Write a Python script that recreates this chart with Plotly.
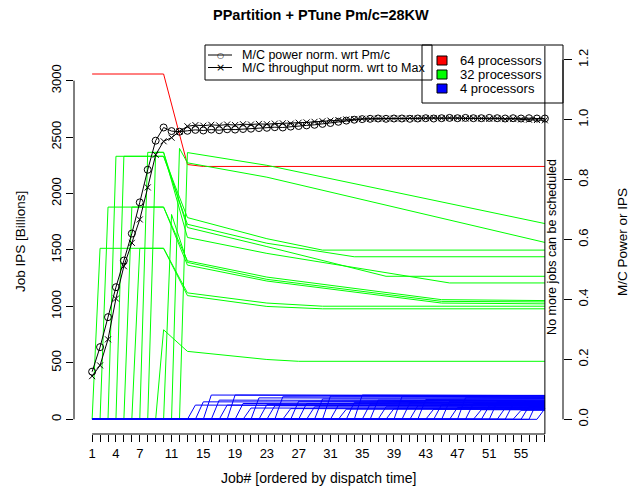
import plotly.graph_objects as go

# ---------------- data ----------------
jobs = list(range(1, 59))
x_tick_labels = {1: "1", 4: "4", 7: "7", 11: "11", 15: "15", 19: "19", 23: "23", 27: "27",
                 31: "31", 35: "35", 39: "39", 43: "43", 47: "47", 51: "51", 55: "55"}

# 64-processor job (red)
red_x = [1, 10, 13, 15, 58]
red_y = [3059, 3059, 2257, 2240, 2240]

# 32-processor jobs (green)
green_job   = [2,    3,    4,    5,    6,    7,    8,    9,    10,  11,   12,   13]
green_peak  = [1515, 1880, 2330, 2330, 1880, 1515, 2365, 2365, 793, 1815, 2400, 2363]
green_v13   = [1120, 1404, 1787, 1728, 1366, 1096, 1699, 1611, 602, 1390, 2272, 2363]
green_v23   = [1030, 1260, 1600, 1560, 1225, 1000, 1530, 1470, 530, 1240, 2145, 2250]
green_knee_x = [30,  45,   30,   34,   45,   30,   38,   46,   27,  45,   58,   58]
green_knee_y = [1002, 1060, 1499, 1440, 1030, 979, 1267, 1208, 514, 1045, 1567, 1734]
green_v58   = [1002, 1052, 1499, 1440, 1023, 979, 1267, 1208, 514, 1040, 1567, 1734]

# 4-processor jobs (blue), dispatched at jobs 14..58
blue_job = list(range(14, 59))
blue_v = [126, 155, 215, 170, 126, 215, 140, 100, 190, 130, 120, 200, 95, 160, 140,
          110, 180, 205, 125, 90, 150, 215, 135, 170, 110, 95, 200, 145, 120, 175,
          90, 130, 160, 105, 190, 140, 85, 120, 155, 100, 135, 80, 115, 150, 95]
blue_end = [120, 150, 212, 165, 118, 205, 135, 98, 185, 128, 115, 195, 92, 155, 138,
            105, 178, 200, 120, 88, 148, 210, 130, 165, 108, 93, 196, 142, 118, 172,
            88, 128, 158, 103, 188, 138, 84, 119, 154, 99, 134, 80, 115, 150, 95]

# machine power / throughput, normalised (right axis)
power = [0.159, 0.241, 0.341, 0.441, 0.530, 0.620, 0.724, 0.833, 0.930, 0.974,
         0.962, 0.960, 0.963, 0.966, 0.964, 0.967, 0.965, 0.968, 0.967, 0.969,
         0.970, 0.972, 0.973, 0.975, 0.974, 0.977, 0.979, 0.981, 0.983, 0.986,
         0.989, 0.993, 0.997, 1.000, 1.002, 1.003, 1.004, 1.003, 1.004, 1.004,
         1.003, 1.004, 1.005, 1.004, 1.005, 1.006, 1.005, 1.006, 1.005, 1.005,
         1.006, 1.005, 1.004, 1.005, 1.004, 1.005, 1.004, 1.004]
throughput = [0.144, 0.180, 0.267, 0.403, 0.511, 0.589, 0.667, 0.774, 0.883, 0.928,
              0.940, 0.961, 0.978, 0.982, 0.980, 0.983, 0.981, 0.984, 0.982, 0.985,
              0.984, 0.986, 0.985, 0.987, 0.988, 0.987, 0.990, 0.991, 0.993, 0.995,
              0.997, 0.999, 1.001, 1.002, 1.003, 1.003, 1.004, 1.003, 1.004, 1.004,
              1.005, 1.004, 1.005, 1.006, 1.005, 1.006, 1.005, 1.004, 1.005, 1.004,
              1.003, 1.004, 1.002, 1.003, 1.001, 1.000, 0.999, 0.998]

# ---------------- layout geometry (pixels) ----------------
W, H = 643, 493
L, R, T, B = 74, 80, 46, 59
PW, PH = W - L - R, H - T - B


def px(xp):
    return (xp - L) / PW


def py(yp):
    return (H - B - yp) / PH


FONT = "Liberation Sans, Arial, Helvetica, sans-serif"


def ann(xp, yp, text, size, xanchor="center", angle=0, family=FONT):
    return dict(x=px(xp), y=py(yp), xref="paper", yref="paper", text=text, showarrow=False,
                xanchor=xanchor, yanchor="middle", textangle=angle,
                font=dict(family=family, size=size, color="black"))


fig = go.Figure()

# red
fig.add_trace(go.Scatter(x=red_x, y=red_y, mode="lines",
                         line=dict(color="#ff0000", width=1), showlegend=False, hoverinfo="skip"))

# green
for i, k in enumerate(green_job):
    xs, ys = [1, k - 1, k], [0, 0, green_peak[i]]
    if k < 10:
        xs.append(10); ys.append(green_peak[i])
    if k < 13:
        xs.append(13); ys.append(green_v13[i])
    xs.append(23); ys.append(green_v23[i])
    xs.append(green_knee_x[i]); ys.append(green_knee_y[i])
    if green_knee_x[i] < 58:
        xs.append(58); ys.append(green_v58[i])
    fig.add_trace(go.Scatter(x=xs, y=ys, mode="lines",
                             line=dict(color="#00ff00", width=1), showlegend=False, hoverinfo="skip"))

# blue
for i, k in enumerate(blue_job):
    xs = [1, k - 1, k, 58]
    ys = [0, 0, blue_v[i], blue_end[i]]
    fig.add_trace(go.Scatter(x=xs, y=ys, mode="lines",
                             line=dict(color="#0000ff", width=1), showlegend=False, hoverinfo="skip"))

# black lines on right axis
fig.add_trace(go.Scatter(x=jobs, y=power, mode="lines+markers", yaxis="y2",
                         line=dict(color="black", width=1),
                         marker=dict(symbol="circle-open", size=7, color="black", line=dict(width=1)),
                         showlegend=False, hoverinfo="skip"))
fig.add_trace(go.Scatter(x=jobs, y=throughput, mode="lines+markers", yaxis="y2",
                         line=dict(color="black", width=1),
                         marker=dict(symbol="x-thin-open", size=6, color="black", line=dict(width=1, color="black")),
                         showlegend=False, hoverinfo="skip"))

shapes = []
annotations = []

# axis lines R style
shapes.append(dict(type="line", xref="paper", yref="y", x0=0, x1=0, y0=0, y1=3000,
                   line=dict(color="black", width=1)))
shapes.append(dict(type="line", xref="paper", yref="y2", x0=1, x1=1, y0=0, y1=1.2,
                   line=dict(color="black", width=1)))
shapes.append(dict(type="line", xref="x", yref="paper", x0=1, x1=58, y0=0, y1=0,
                   line=dict(color="black", width=1)))
# vertical marker line
shapes.append(dict(type="line", xref="x", yref="paper", x0=58, x1=58, y0=0, y1=1,
                   line=dict(color="black", width=1)))

annotations.append(dict(x=58, y=py(247), xref="x", yref="paper", text="No more jobs can be scheduled",
                        textangle=-90, showarrow=False, xanchor="center", yanchor="middle", xshift=7,
                        font=dict(family=FONT, size=12.5, color="black")))

# legend 1 (transparent box, as in the original)
shapes.append(dict(type="rect", xref="paper", yref="paper", x0=px(205), x1=px(432), y0=py(80), y1=py(45),
                   line=dict(color="black", width=1), fillcolor="rgba(0,0,0,0)", layer="above"))
for yy, sym, sz in [(55, "○", 8), (67.5, "×", 11)]:
    shapes.append(dict(type="line", xref="paper", yref="paper", x0=px(208), x1=px(232), y0=py(yy), y1=py(yy),
                       line=dict(color="black", width=1), layer="above"))
    annotations.append(ann(220, yy, sym, sz, family="DejaVu Sans"))
annotations.append(ann(240, 55, "M/C power norm. wrt Pm/c", 12.5, xanchor="left"))
annotations.append(ann(240, 67.5, "M/C throughput norm. wrt to Max", 12.5, xanchor="left"))

# legend 2 (transparent box)
shapes.append(dict(type="rect", xref="paper", yref="paper", x0=px(422), x1=px(563), y0=py(103), y1=py(45),
                   line=dict(color="black", width=1), fillcolor="rgba(0,0,0,0)", layer="above"))
for yy, col, lab in [(60.5, "#ff0000", "64 processors"), (74.5, "#00ff00", "32 processors"), (88.5, "#0000ff", "4 processors")]:
    shapes.append(dict(type="rect", xref="paper", yref="paper", x0=px(437), x1=px(447), y0=py(yy + 4.5), y1=py(yy - 4.5),
                       line=dict(color="black", width=1), fillcolor=col, layer="above"))
    annotations.append(ann(458, yy, lab, 13, xanchor="left"))

# titles
annotations.append(ann(321, 15, "<b>PPartition + PTune Pm/c=28KW</b>", 14.5))
annotations.append(ann(318, 478, "Job# [ordered by dispatch time]", 14))
annotations.append(ann(20, 242, "Job IPS [Billions]", 13.5, angle=-90))
annotations.append(ann(622, 242, "M/C Power or IPS", 13.5, angle=-90))

fig.update_layout(
    width=W, height=H, autosize=False,
    margin=dict(l=L, r=R, t=T, b=B, pad=0),
    paper_bgcolor="white", plot_bgcolor="white",
    font=dict(family=FONT, size=12, color="black"),
    xaxis=dict(range=[-1.28, 60.28], tickvals=jobs,
               ticktext=[x_tick_labels.get(j, "") for j in jobs],
               ticks="outside", ticklen=7, tickwidth=1, tickcolor="black",
               showgrid=False, zeroline=False, showline=False, fixedrange=True,
               tickfont=dict(family=FONT, size=13)),
    yaxis=dict(range=[-130, 3307], tickvals=[0, 500, 1000, 1500, 2000, 2500, 3000],
               ticks="outside", ticklen=7, tickwidth=1, tickcolor="black", tickangle=-90,
               showgrid=False, zeroline=False, showline=False, fixedrange=True,
               tickfont=dict(family=FONT, size=13)),
    yaxis2=dict(range=[-0.049, 1.246], overlaying="y", side="right",
                tickvals=[0, 0.2, 0.4, 0.6, 0.8, 1.0, 1.2],
                ticktext=["0.0", "0.2", "0.4", "0.6", "0.8", "1.0", "1.2"],
                ticks="outside", ticklen=8, tickwidth=1, tickcolor="black", tickangle=-90,
                showgrid=False, zeroline=False, showline=False, fixedrange=True,
                tickfont=dict(family=FONT, size=13)),
    shapes=shapes, annotations=annotations, showlegend=False,
)

fig.write_html("out.html")
